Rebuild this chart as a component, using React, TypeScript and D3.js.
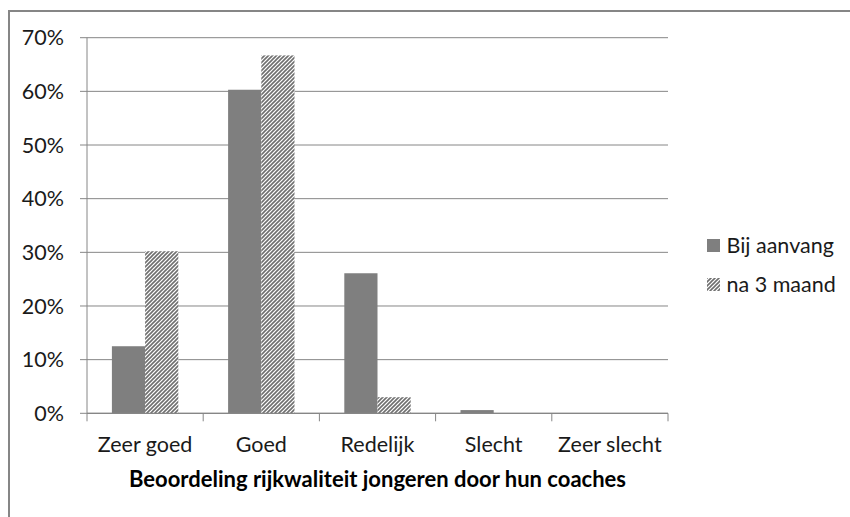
import React from 'react'
import * as d3 from 'd3'

const categories = ['Zeer goed', 'Goed', 'Redelijk', 'Slecht', 'Zeer slecht']
const seriesNames = ['Bij aanvang', 'na 3 maand']
const bijAanvang = [12.5, 60.3, 26.1, 0.6, 0]
const na3Maand = [30.2, 66.7, 3.0, 0, 0]
const yTicks = [0, 10, 20, 30, 40, 50, 60, 70]
const xTitle = 'Beoordeling rijkwaliteit jongeren door hun coaches'

const W = 850
const H = 517
const plot = { left: 87, right: 668, top: 37.7, bottom: 413.3 }
const font = 'Lato, "Open Sans", sans-serif'
const grey = '#868686'
const barGrey = '#7f7f7f'
const fs = 21.5

export default function App() {
  const x = d3.scaleBand().domain(categories).range([plot.left, plot.right]).paddingInner(0).paddingOuter(0)
  const inner = d3.scaleBand().domain(seriesNames).range([0, x.bandwidth()]).paddingInner(0).paddingOuter(0.75)
  const y = d3.scaleLinear().domain([0, 70]).range([plot.bottom, plot.top])
  const series = [bijAanvang, na3Maand]
  const fills = [barGrey, 'url(#hatch)']
  const ticksX = categories.map(c => x(c) as number).concat([plot.right])

  return (
    <svg width={W} height={H} style={{ position: 'absolute', left: 0, top: 0 }} fontFamily={font}>
      <defs>
        <pattern id="hatch" patternUnits="userSpaceOnUse" width="4" height="4">
          <rect width="4" height="4" fill="#fff" />
          <path d="M-1,1 l2,-2 M0,4 l4,-4 M3,5 l2,-2" stroke="#6f6f6f" strokeWidth="1.6" />
        </pattern>
      </defs>
      <rect x={0} y={0} width={W} height={H} fill="#fff" />
      <rect x={9} y={11} width={W + 20} height={H + 20} fill="none" stroke={grey} strokeWidth={2} />

      {yTicks.map(t => (
        <g key={t}>
          <line x1={plot.left - 7} x2={plot.right} y1={y(t)} y2={y(t)} stroke={grey} strokeWidth={1} />
          <text x={64} y={y(t)} dy="0.36em" textAnchor="end" fontSize={fs} fill="#1a1a1a">{t}%</text>
        </g>
      ))}
      <line x1={plot.left} x2={plot.left} y1={plot.top} y2={plot.bottom} stroke={grey} strokeWidth={1} />

      {series.map((vals, si) =>
        categories.map((c, ci) => {
          const v = vals[ci]
          if (v <= 0) return null
          const bx = (x(c) as number) + (inner(seriesNames[si]) as number)
          return (
            <rect key={si + '-' + ci} x={bx} y={y(v)} width={inner.bandwidth()} height={y(0) - y(v)} fill={fills[si]} />
          )
        })
      )}

      <line x1={plot.left} x2={plot.right} y1={plot.bottom} y2={plot.bottom} stroke={grey} strokeWidth={1.2} />
      {ticksX.map((tx, i) => (
        <line key={i} x1={tx} x2={tx} y1={plot.bottom} y2={plot.bottom + 8} stroke={grey} strokeWidth={1} />
      ))}
      {categories.map(c => (
        <text key={c} x={(x(c) as number) + x.bandwidth() / 2} y={452} textAnchor="middle" fontSize={fs} fill="#1a1a1a">{c}</text>
      ))}
      <text x={(plot.left + plot.right) / 2} y={487} textAnchor="middle" fontSize={22} fontWeight="bold" fill="#000">{xTitle}</text>

      {seriesNames.map((s, i) => (
        <g key={s} transform={`translate(707, ${239 + i * 39})`}>
          <rect width={13} height={13} fill={fills[i]} />
          <text x={19.5} y={14} fontSize={fs} fill="#1a1a1a">{s}</text>
        </g>
      ))}
    </svg>
  )
}
